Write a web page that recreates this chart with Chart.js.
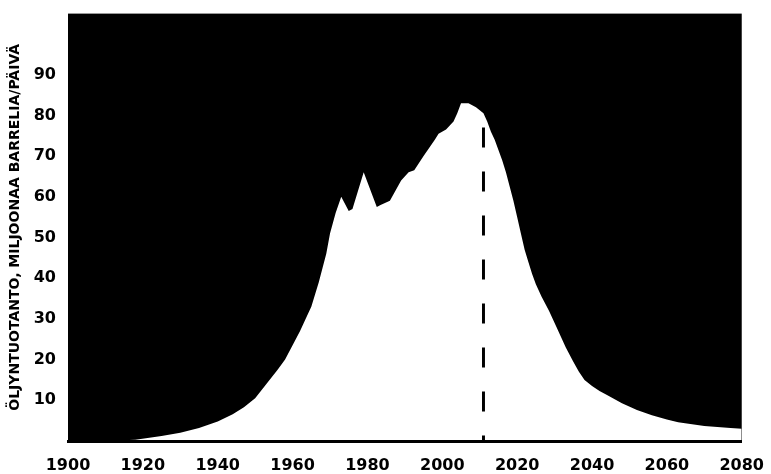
<!DOCTYPE html>
<html lang="fi">
<head>
    <meta charset="UTF-8">
    <title>Öljyntuotanto</title>
    <script src="https://cdn.jsdelivr.net/npm/chart.js"></script>
    <style>
        body {
            margin: 0;
            padding: 0;
            background: #fff;
        }
    </style>
</head>
<body>
    <canvas id="oilChart" width="771" height="474"></canvas>

    <script>
        // production, million barrels per day
        const years = [1900, 1910, 1918, 1925, 1930, 1935, 1940, 1944, 1947, 1950, 1953, 1956, 1958, 1960, 1962,
            1964, 1965, 1966, 1967, 1968, 1969, 1970, 1971.5, 1973, 1975, 1976, 1979, 1982.5, 1983.5, 1986,
            1989, 1991, 1992.5, 1995, 1998, 1999, 2001, 2003, 2004, 2005, 2007, 2009, 2011, 2012, 2013, 2014,
            2015, 2016, 2017, 2018, 2019, 2020, 2021, 2022, 2023, 2024, 2025, 2026.5, 2028.5, 2030.5, 2033,
            2035, 2036.5, 2038, 2040, 2042, 2044, 2048, 2052, 2056, 2060, 2063, 2070, 2077, 2080];
        const production = [0, 0, 0.3, 1.2, 2, 3.2, 4.8, 6.6, 8.3, 10.5, 14, 17.5, 20, 23.5, 27,
            31, 33, 36, 39, 42.5, 46, 51, 56, 60, 56.5, 57, 66, 57.5, 58, 59,
            64, 66, 66.5, 70, 74, 75.5, 76.5, 78.5, 80.5, 83, 83, 82, 80.5, 78.5, 76, 74,
            71.5, 69, 66, 62.5, 59, 55, 51, 47, 44, 41, 38.5, 35.5, 32, 28, 23,
            19.5, 17, 15, 13.5, 12.3, 11.3, 9.3, 7.6, 6.3, 5.3, 4.6, 3.7, 3.2, 3];
        const peakYear = 2011;
        const peakLineTop = 77;
        const xTicks = [1900, 1920, 1940, 1960, 1980, 2000, 2020, 2040, 2060, 2080];
        const yTicks = [10, 20, 30, 40, 50, 60, 70, 80, 90];

        const FONT = "'DejaVu Sans', sans-serif";

        // black plot area behind the white production curve
        const blackBackground = {
            id: 'blackBackground',
            beforeDatasetsDraw(chart) {
                const { ctx, chartArea } = chart;
                ctx.save();
                ctx.fillStyle = '#000';
                ctx.fillRect(chartArea.left, chartArea.top, chartArea.width, chartArea.height);
                ctx.restore();
            }
        };

        const ctx = document.getElementById('oilChart').getContext('2d');
        new Chart(ctx, {
            type: 'line',
            data: {
                datasets: [{
                    data: years.map((y, i) => ({ x: y, y: production[i] })),
                    order: 1,
                    borderWidth: 0,
                    borderColor: '#fff',
                    backgroundColor: '#fff',
                    fill: 'origin',
                    pointRadius: 0,
                    tension: 0
                }, {
                    // dashed line at the peak, drawn top-down so a dash starts under the curve
                    data: [{ x: peakYear, y: peakLineTop }, { x: peakYear, y: 0 }],
                    order: 0,
                    borderColor: '#000',
                    borderWidth: 3,
                    borderDash: [20, 24],
                    fill: false,
                    pointRadius: 0
                }]
            },
            options: {
                responsive: false,
                animation: false,
                layout: { padding: { top: 12, right: 28, left: 0, bottom: 0 } },
                plugins: {
                    legend: { display: false },
                    tooltip: { enabled: false }
                },
                scales: {
                    x: {
                        type: 'linear',
                        min: 1900,
                        max: 2080,
                        afterBuildTicks: (scale) => { scale.ticks = xTicks.map(v => ({ value: v })); },
                        afterFit: (scale) => { scale.height = 33; },
                        grid: { display: false },
                        border: { display: true, color: '#000', width: 3, z: 1 },
                        ticks: {
                            color: '#000',
                            padding: 7,
                            maxRotation: 0,
                            font: { family: FONT, size: 16, weight: 'bold' },
                            callback: (v) => String(v)
                        }
                    },
                    y: {
                        min: 0,
                        max: 105,
                        afterBuildTicks: (scale) => { scale.ticks = yTicks.map(v => ({ value: v })); },
                        afterFit: (scale) => { scale.width = 68; },
                        grid: { display: false },
                        border: { display: false },
                        ticks: {
                            color: '#000',
                            padding: 4,
                            font: { family: FONT, size: 16, weight: 'bold' }
                        },
                        title: {
                            display: true,
                            text: 'ÖLJYNTUOTANTO, MILJOONAA BARRELIA/PÄIVÄ',
                            color: '#000',
                            padding: { top: 7, bottom: 0 },
                            font: { family: FONT, size: 14, weight: 'bold' }
                        }
                    }
                }
            },
            plugins: [blackBackground]
        });
    </script>
</body>
</html>
